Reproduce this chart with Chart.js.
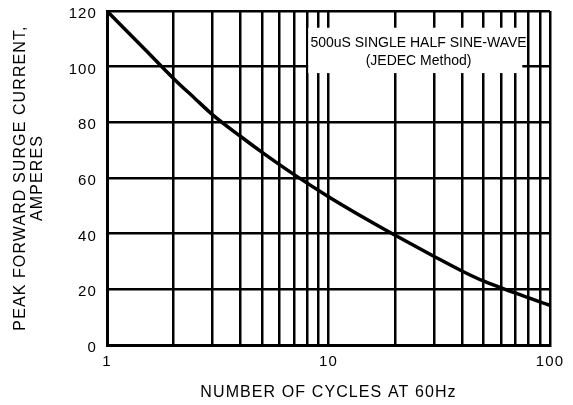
<!DOCTYPE html>
<html>
<head>
<meta charset="utf-8">
<script src="https://cdn.jsdelivr.net/npm/chart.js@4.4.0/dist/chart.umd.min.js"></script>
<style>
  html, body { margin: 0; padding: 0; background: #fff; }
  #wrap { width: 573px; height: 405px; }
</style>
</head>
<body>
<div id="wrap"><canvas id="c" width="573" height="405"></canvas></div>
<script>
// ---- data ----
const cycles  = [1, 1.5, 2, 2.5, 3, 4, 5, 7, 10, 15, 20, 30, 40, 50, 70, 100];
const current = [120, 105.8, 95.7, 88.5, 82.7, 75.0, 69.3, 61.2, 53.3, 45, 39.4, 31.8, 26.6, 23, 18.6, 14.2];

const xGridTicks  = [1, 2, 3, 4, 5, 6, 7, 8, 9, 10, 20, 30, 40, 50, 60, 70, 80, 90, 100];
const xTickLabels = [1, 10, 100];
const yTicks      = [0, 20, 40, 60, 80, 100, 120];

const xTitle = 'NUMBER OF CYCLES AT 60Hz';
const yTitle = ['PEAK FORWARD SURGE CURRENT,', 'AMPERES'];

const noteLines = ['500uS SINGLE HALF SINE-WAVE', '(JEDEC Method)'];
// annotation box in data units: [xLeft, xRight], [yTop, yBottom]
const noteBoxX = [8.1, 75];
const noteBoxY = [114, 97.7];
const noteTextX = 25.5;
const noteTextY = [108.3, 102];

const FONT = '"Liberation Sans", Arial, Helvetica, sans-serif';

const spacingPlugin = {
  id: 'spacing',
  beforeLayout(chart) { chart.ctx.letterSpacing = '1.1px'; },
  beforeDraw(chart) { chart.ctx.letterSpacing = '1.1px'; }
};

const notePlugin = {
  id: 'note',
  beforeDatasetsDraw(chart) {
    const {ctx, scales: {x, y}} = chart;
    const l = x.getPixelForValue(noteBoxX[0]);
    const r = x.getPixelForValue(noteBoxX[1]);
    const t = y.getPixelForValue(noteBoxY[0]);
    const b = y.getPixelForValue(noteBoxY[1]);
    ctx.save();
    ctx.letterSpacing = '0px';
    ctx.fillStyle = '#ffffff';
    ctx.fillRect(l, t, r - l, b - t);
    ctx.fillStyle = '#000';
    ctx.font = '14px ' + FONT;
    ctx.textAlign = 'center';
    ctx.textBaseline = 'middle';
    const cx = x.getPixelForValue(noteTextX);
    noteLines.forEach((s, i) => ctx.fillText(s, cx, y.getPixelForValue(noteTextY[i])));
    ctx.restore();
  }
};

function zeroPad(axis) {
  axis.paddingTop = 0; axis.paddingBottom = 0;
  axis.paddingLeft = 0; axis.paddingRight = 0;
}

new Chart(document.getElementById('c'), {
  type: 'line',
  data: {
    datasets: [{
      data: cycles.map((c, i) => ({x: c, y: current[i]})),
      borderColor: '#000',
      borderWidth: 3.5,
      pointRadius: 0,
      fill: false,
      cubicInterpolationMode: 'monotone'
    }]
  },
  options: {
    responsive: false,
    animation: false,
    layout: { padding: { top: 11, right: 23, bottom: 0, left: 0 } },
    plugins: { legend: { display: false }, tooltip: { enabled: false } },
    scales: {
      x: {
        type: 'logarithmic',
        min: 1, max: 100,
        afterBuildTicks(axis) { axis.ticks = xGridTicks.map(v => ({ value: v })); },
        afterFit(axis) { axis.height = 60; zeroPad(axis); },
        grid: { color: '#000', lineWidth: 2.5, drawTicks: false },
        border: { color: '#000', width: 3 },
        ticks: {
          autoSkip: false, maxRotation: 0, padding: 8,
          color: '#000',
          font: { family: FONT, size: 15 },
          callback: (v) => xTickLabels.includes(v) ? String(v) : ''
        },
        title: {
          display: true, text: xTitle, color: '#000',
          font: { family: FONT, size: 16 },
          padding: { top: 0, bottom: 2.4 }
        }
      },
      y: {
        min: 0, max: 120,
        afterBuildTicks(axis) { axis.ticks = yTicks.map(v => ({ value: v })); },
        afterFit(axis) { axis.width = 107; zeroPad(axis); },
        grid: { color: '#000', lineWidth: 2.5, drawTicks: false },
        border: { color: '#000', width: 3 },
        ticks: {
          padding: 10, labelOffset: 3, color: '#000',
          font: { family: FONT, size: 15 }
        },
        title: {
          display: true, text: yTitle, color: '#000',
          font: { family: FONT, size: 16, lineHeight: 1.06 },
          padding: { top: 12.5, bottom: 0 }
        }
      }
    }
  },
  plugins: [spacingPlugin, notePlugin]
});
</script>
</body>
</html>
